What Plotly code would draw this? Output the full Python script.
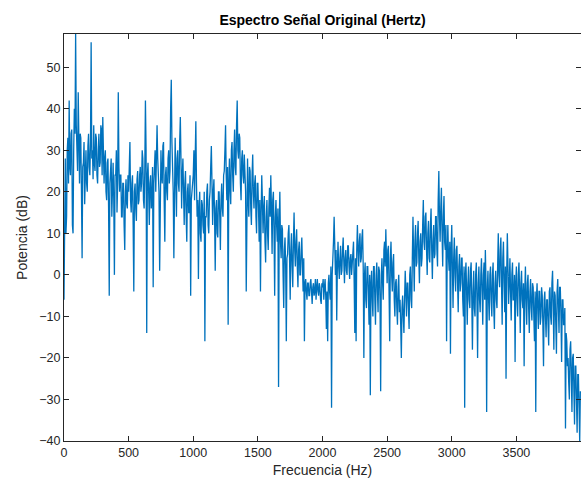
import plotly.graph_objects as go

# Frequency bins (Hz), step of 5 Hz
freq_step_hz = 5
# Power spectrum values (dB), 20 values per 100 Hz
potencia_db = [
    -6, 18, 28, 10, 14, 30, 33, 22, 42, 26, 24, 34, 35, 12, 10, 30, 40, 34, 58, 36,
    30, 25, 44, 28, 22, 34, 33, 20, 4, 26, 27, 32, 17, 24, 30, 22, 20, 31, 34, 26,
    24, 32, 56, 28, 30, 23, 36, 27, 25, 34, 33, 24, 22, 30, 34, 26, 27, 36, 35, 24,
    38, 30, 22, 28, 30, 20, 18, 27, 28, 16, -5, 22, 25, 28, 14, 26, 27, 18, 0, 24,
    24, 30, 15, 22, 44, 26, 20, 24, 24, 14, 14, 22, 22, 12, 6, 20, 23, 17, 16, 24,
    20, 26, 32, 18, 15, 22, 24, 12, -4, 20, 22, 16, 13, 23, 25, 17, 18, 24, 26, 20,
    22, 30, 28, 18, 16, 25, 42, 30, -14, 24, 27, 20, 12, 22, 24, 16, 18, 26, -3, 22,
    26, 30, 20, 28, 36, 28, 24, 20, 1, 26, 30, 24, 22, 31, 32, 18, 8, 24, 26, 20,
    18, 28, 30, 22, 25, 40, 47, 32, 28, 20, 4, 26, 33, 24, 14, 28, 30, 22, 20, 32,
    38, 28, 16, 24, 28, 20, 12, 22, 25, 14, 8, 20, 22, 15, 15, 24, -5, 18, 20, 24,
    24, 30, 18, 28, 37, 22, 14, 18, -1, 16, 20, 10, 8, 18, 17, 12, 10, 20, -16, 14,
    14, 20, 22, 12, 10, 18, 20, 26, 31, 22, 12, 20, 23, 14, 1, 16, 18, 10, 9, 20,
    20, 14, 6, 18, 22, 16, 14, 24, 25, 30, 36, 24, 18, 26, -12, 22, 28, 20, 17, 30,
    32, 24, 20, 30, 35, 26, 24, 36, 42, 30, 28, 34, 33, 22, 18, 28, 30, 24, 22, 29,
    26, 20, -4, 24, 28, 18, 14, 26, 25, 16, 12, 24, 29, 20, 16, 22, 24, 14, 10, 22,
    22, 16, 8, 18, -4, 14, 24, 18, 10, 16, 19, 8, 3, 14, 18, 10, 6, 16, 21, 14,
    24, 16, 5, 18, 20, 10, -5, 14, 18, 12, 8, 16, -27, 12, 20, 8, 4, 12, 11, 0,
    -8, 6, 9, 2, -16, 4, 5, 10, 12, 4, -6, 6, 10, 2, -3, 8, 15, 6, 2, 8,
    11, 2, -3, 6, 8, 0, 0, 6, 9, 2, -4, 4, -16, -2, -1, -4, -6, -2, -2, -5,
    -5, -2, -1, -4, -7, -3, -2, -5, -4, -1, -6, -3, -1, -4, -5, -2, -3, -6, -7, -2,
    -3, -1, -6, -3, -1, -5, -13, -4, -16, -2, 0, -4, -6, 2, -32, 0, 3, 8, 14, 6,
    0, 6, -11, 2, 8, 2, -1, 4, 7, 0, 1, 6, 9, 3, -2, 4, 6, 1, 0, 7,
    7, 2, -1, 4, 5, 0, 2, 6, 8, -2, -14, 4, -16, 6, 12, 6, 2, 8, 10, 3,
    4, 9, 11, 2, -20, 0, 3, -6, -8, 2, 2, -4, -12, 0, -29, -2, 1, -6, -10, 2,
    2, -6, -12, 0, 3, -4, -9, 2, 1, -6, -28, 0, 4, -2, -6, 6, 8, 2, 11, 4,
    -2, 6, 7, -4, -16, 4, 8, 0, -4, 3, 5, -6, -10, -2, -1, -8, -12, -3, 0, -9,
    -6, -12, -20, -8, -5, -10, -14, -6, 1, -4, -10, -2, -2, -8, -13, 0, 2, -6, -8, 4,
    14, 4, -4, 8, 12, 2, 3, 10, 13, 4, -2, 8, 10, 2, 4, 12, 18, 8, 6, 14,
    15, 6, 0, 10, 13, 4, 3, 12, 16, 6, -1, 8, 12, 4, 5, 14, 14, 6, 2, 18,
    25, 14, 8, 16, 21, 10, 2, 14, 19, 8, 6, 12, -16, 6, 12, 4, 1, 8, -19, 6,
    12, 2, -8, 4, 9, 0, -4, 6, 7, -2, -9, 2, 5, -4, -2, 4, 4, -6, -10, 2,
    -32, 0, 3, -4, -12, -2, 2, -6, -8, 1, 3, -6, -18, -4, 1, -8, -10, 0, 3, -6,
    -20, -2, 2, -6, -9, 0, 4, -4, -12, 0, 3, -6, 6, -2, -33, -4, 1, -6, -11, 0,
    2, -6, -10, 0, 3, -8, -13, -2, 1, -6, -8, 2, 10, 0, -3, 6, 9, -2, -12, 4,
    8, -2, -9, 2, -25, 0, 10, 2, -7, -2, 4, -4, -11, 0, 3, -6, -6, 0, -21, -2,
    2, -6, -10, 0, 3, -4, -14, -2, 1, -6, -8, -2, -22, -4, 2, -6, -12, -2, 0, -8,
    -14, -4, -1, -8, -11, -2, -3, -10, -16, -4, -33, -6, -2, -8, -13, -4, -4, -12, -10, -3,
    -5, -12, -22, -6, -4, -10, -15, -6, -6, -12, -17, -4, -3, -10, -12, -2, 1, -8, -18, -4,
    -5, -12, -19, -4, -1, -8, -14, -3, -3, -10, -21, -6, -6, -12, -12, -8, -37, -14, -16, -22,
    -20, -26, -30, -18, -16, -24, -33, -20, -19, -28, -36, -22, -22, -30, -38, -24, -24, -32, -40, -28,
]
frecuencia_hz = [i * freq_step_hz for i in range(len(potencia_db))]

x_ticks = [0, 500, 1000, 1500, 2000, 2500, 3000, 3500]
y_ticks = [-40, -30, -20, -10, 0, 10, 20, 30, 40, 50]

axis_color = "#262626"

fig = go.Figure(
    go.Scatter(
        x=frecuencia_hz,
        y=potencia_db,
        mode="lines",
        line=dict(color="#0072BD", width=1.3),
        hoverinfo="skip",
    )
)

common_axis = dict(
    showline=True,
    linecolor=axis_color,
    linewidth=1,
    mirror="ticks",
    ticks="inside",
    ticklen=5,
    tickcolor=axis_color,
    tickwidth=1,
    showgrid=False,
    zeroline=False,
    tickfont=dict(family="Liberation Sans, Arial", size=12.5, color=axis_color),
)

fig.update_layout(
    width=581,
    height=495,
    paper_bgcolor="white",
    plot_bgcolor="white",
    margin=dict(l=64, r=0, t=34, b=54),
    showlegend=False,
    title=dict(
        text="<b>Espectro Señal Original (Hertz)</b>",
        x=(64 + 581) / 2 / 581,
        xanchor="center",
        y=1 - 20 / 495,
        yanchor="middle",
        font=dict(family="Liberation Sans, Arial", size=14, color="#000000"),
    ),
    xaxis=dict(
        range=[0, 4000],
        tickvals=x_ticks,
        title=dict(
            text="Frecuencia (Hz)",
            font=dict(family="Liberation Sans, Arial", size=14, color=axis_color),
            standoff=6,
        ),
        **common_axis,
    ),
    yaxis=dict(
        range=[-40, 58],
        tickvals=y_ticks,
        title=dict(
            text="Potencia (dB)",
            font=dict(family="Liberation Sans, Arial", size=14, color=axis_color),
            standoff=8,
        ),
        **common_axis,
    ),
)

fig.write_html("out.html")
